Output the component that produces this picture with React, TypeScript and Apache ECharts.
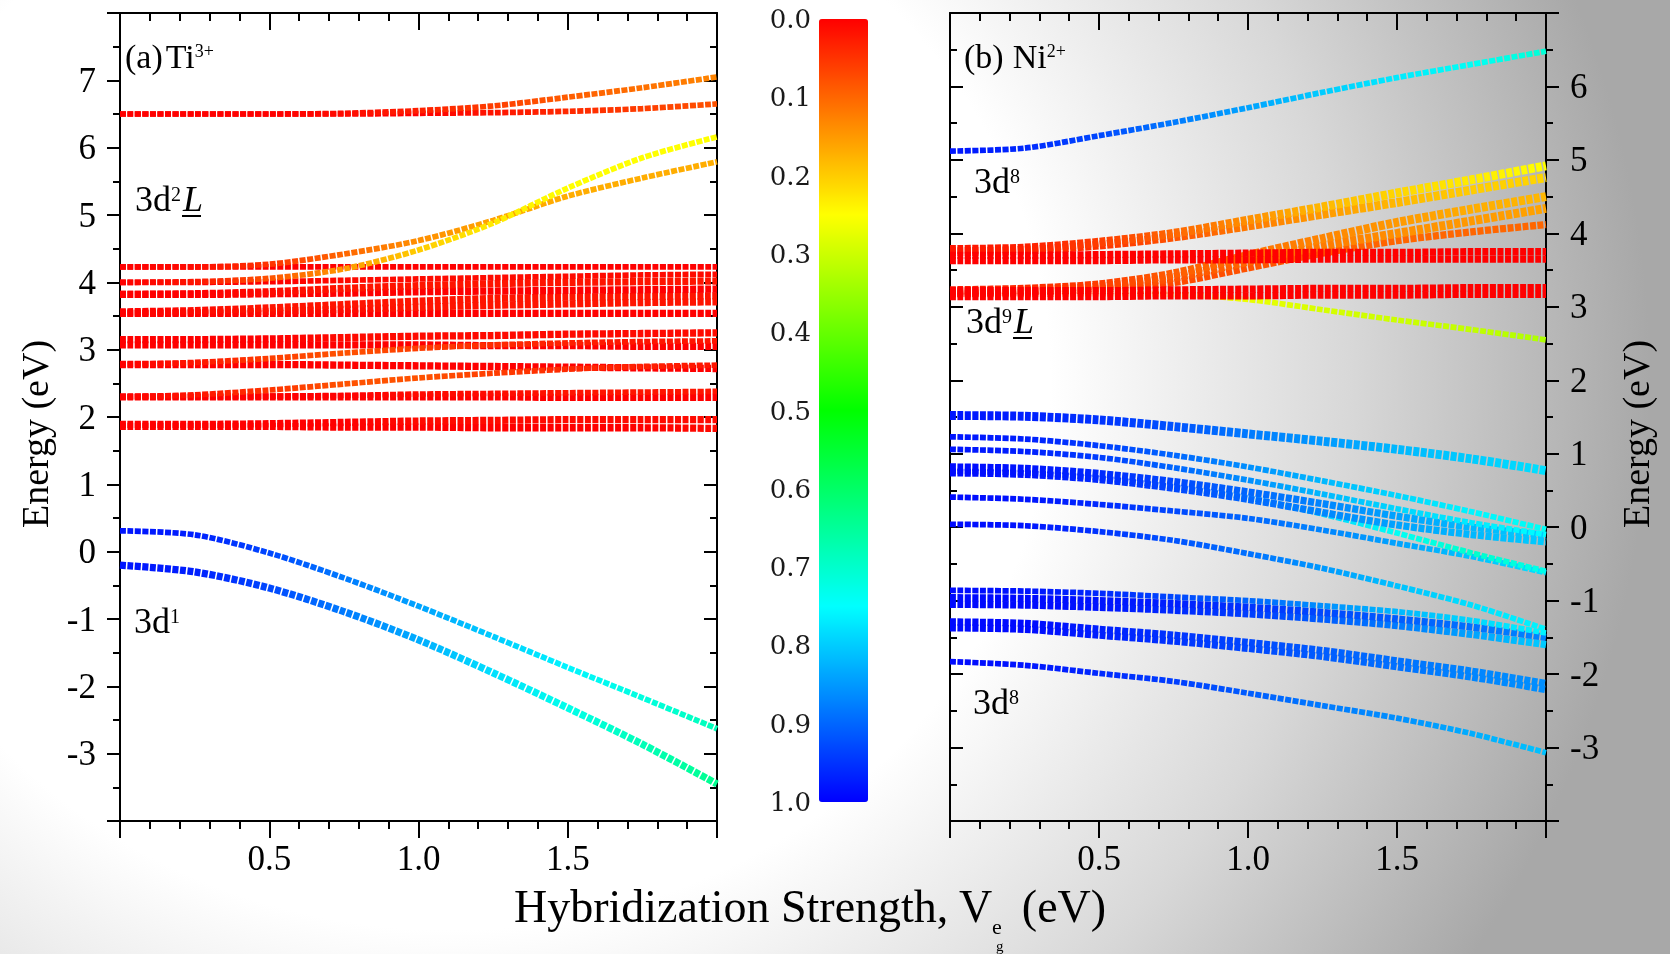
import React, { useEffect, useRef } from 'react';
import * as echarts from 'echarts';

// Hybridization strength V_eg (eV) at which every level is sampled
const hybridization = [0, 0.25, 0.5, 0.75, 1.0, 1.25, 1.5, 1.75, 2.0];

// (a) Ti3+ : level energies (eV) along the hybridization grid
const tiEnergies = [
  [1.86, 1.86, 1.86, 1.85, 1.85, 1.84, 1.84, 1.84, 1.83],
  [1.89, 1.89, 1.9, 1.92, 1.94, 1.95, 1.96, 1.96, 1.96],
  [2.3, 2.3, 2.3, 2.3, 2.3, 2.3, 2.29, 2.29, 2.29],
  [2.3, 2.3, 2.31, 2.32, 2.34, 2.35, 2.36, 2.37, 2.38],
  [2.78, 2.78, 2.78, 2.77, 2.76, 2.75, 2.74, 2.73, 2.72],
  [3.07, 3.07, 3.07, 3.07, 3.07, 3.06, 3.06, 3.05, 3.05],
  [3.15, 3.15, 3.16, 3.18, 3.2, 3.21, 3.23, 3.24, 3.25],
  [3.54, 3.54, 3.54, 3.54, 3.54, 3.54, 3.54, 3.54, 3.54],
  [3.54, 3.55, 3.57, 3.6, 3.63, 3.66, 3.68, 3.7, 3.71],
  [3.56, 3.58, 3.62, 3.67, 3.72, 3.76, 3.78, 3.79, 3.8],
  [3.82, 3.82, 3.83, 3.84, 3.86, 3.87, 3.88, 3.89, 3.9],
  [3.82, 3.83, 3.86, 3.91, 3.95, 3.98, 4.0, 4.01, 4.02],
  [4.0, 4.0, 4.01, 4.03, 4.05, 4.07, 4.09, 4.11, 4.12],
  [4.23, 4.23, 4.23, 4.23, 4.23, 4.23, 4.23, 4.23, 4.23],
  [6.5, 6.5, 6.5, 6.5, 6.51, 6.52, 6.54, 6.58, 6.65],
  [6.5, 6.5, 6.5, 6.51, 6.55, 6.62, 6.75, 6.89, 7.05],
  [2.3, 2.33, 2.4, 2.49, 2.58, 2.65, 2.71, 2.75, 2.77],
  [2.78, 2.81, 2.87, 2.95, 3.02, 3.07, 3.1, 3.12, 3.13],
  [4.23, 4.23, 4.27, 4.42, 4.62, 4.92, 5.28, 5.55, 5.79],
  [4.0, 4.01, 4.06, 4.2, 4.48, 4.88, 5.4, 5.85, 6.16],
  [0.31, 0.25, -0.02, -0.39, -0.81, -1.26, -1.72, -2.17, -2.63],
  [-0.2, -0.3, -0.54, -0.89, -1.31, -1.8, -2.32, -2.86, -3.45],
];

// (a) Ti3+ : 3d weight of each level along the grid
const tiWeights = [
  [0, 0, 0, 0, 0, 0, 0, 0, 0.01],
  [0, 0, 0, 0, 0.01, 0.01, 0.01, 0.01, 0.01],
  [0, 0, 0, 0, 0, 0, 0, 0, 0],
  [0, 0, 0, 0, 0.01, 0.01, 0.02, 0.02, 0.02],
  [0, 0, 0, 0, 0, 0, 0, 0, 0],
  [0, 0, 0, 0, 0, 0, 0, 0, 0],
  [0, 0, 0, 0.01, 0.01, 0.01, 0.01, 0.01, 0.01],
  [0, 0, 0, 0, 0, 0, 0, 0, 0],
  [0, 0, 0.01, 0.01, 0.02, 0.02, 0.02, 0.02, 0.02],
  [0, 0.01, 0.02, 0.02, 0.02, 0.02, 0.02, 0.02, 0.02],
  [0, 0, 0, 0, 0, 0, 0, 0, 0],
  [0, 0, 0.01, 0.02, 0.02, 0.02, 0.02, 0.02, 0.02],
  [0, 0, 0, 0.01, 0.01, 0.01, 0.01, 0.01, 0.01],
  [0, 0, 0, 0, 0, 0, 0, 0, 0],
  [0, 0, 0, 0, 0, 0.02, 0.04, 0.06, 0.08],
  [0, 0, 0, 0.01, 0.03, 0.06, 0.09, 0.11, 0.13],
  [0, 0.02, 0.05, 0.08, 0.08, 0.06, 0.04, 0.03, 0.02],
  [0, 0.02, 0.06, 0.08, 0.06, 0.04, 0.03, 0.02, 0.02],
  [0, 0.01, 0.05, 0.1, 0.14, 0.16, 0.17, 0.17, 0.17],
  [0, 0.02, 0.08, 0.15, 0.2, 0.23, 0.25, 0.25, 0.25],
  [0.98, 0.97, 0.93, 0.88, 0.84, 0.8, 0.76, 0.72, 0.68],
  [0.98, 0.97, 0.93, 0.88, 0.83, 0.78, 0.73, 0.68, 0.64],
];

// (a) Ti3+ : number of nearly degenerate states in each level
const tiMultiplicity = [3, 3, 3, 2, 3, 3, 3, 3, 3, 3, 3, 3, 2, 2, 2, 2, 2, 2, 2, 2, 2, 3];

// (b) Ni2+ : level energies (eV) along the hybridization grid
const niEnergies = [
  [-1.83, -1.88, -1.99, -2.1, -2.26, -2.43, -2.6, -2.81, -3.07],
  [-1.37, -1.39, -1.47, -1.55, -1.65, -1.76, -1.9, -2.04, -2.21],
  [-1.29, -1.31, -1.39, -1.47, -1.57, -1.68, -1.82, -1.96, -2.13],
  [-1.05, -1.06, -1.09, -1.13, -1.18, -1.25, -1.34, -1.46, -1.6],
  [-0.96, -0.97, -1.0, -1.04, -1.09, -1.16, -1.25, -1.36, -1.5],
  [-0.86, -0.87, -0.9, -0.95, -1.0, -1.07, -1.15, -1.27, -1.44],
  [0.04, 0.02, -0.06, -0.18, -0.36, -0.56, -0.8, -1.06, -1.39],
  [0.41, 0.38, 0.31, 0.22, 0.12, -0.04, -0.22, -0.4, -0.62],
  [0.76, 0.74, 0.67, 0.55, 0.4, 0.18, -0.08, -0.35, -0.6],
  [0.74, 0.72, 0.65, 0.53, 0.38, 0.2, 0.03, -0.1, -0.2],
  [0.82, 0.8, 0.73, 0.62, 0.48, 0.32, 0.15, 0.0, -0.11],
  [1.06, 1.03, 0.95, 0.81, 0.64, 0.45, 0.25, 0.06, -0.1],
  [1.23, 1.2, 1.11, 0.98, 0.82, 0.63, 0.43, 0.21, -0.03],
  [1.52, 1.51, 1.46, 1.37, 1.27, 1.17, 1.06, 0.93, 0.77],
  [3.17, 3.17, 3.18, 3.17, 3.1, 2.96, 2.82, 2.69, 2.55],
  [3.18, 3.2, 3.24, 3.33, 3.53, 3.73, 3.9, 4.02, 4.12],
  [3.2, 3.22, 3.27, 3.4, 3.62, 3.83, 4.0, 4.17, 4.34],
  [3.22, 3.24, 3.3, 3.45, 3.7, 3.93, 4.15, 4.33, 4.5],
  [3.75, 3.77, 3.84, 3.95, 4.1, 4.26, 4.42, 4.59, 4.76],
  [3.78, 3.8, 3.88, 4.0, 4.18, 4.36, 4.55, 4.73, 4.92],
  [3.14, 3.14, 3.14, 3.15, 3.15, 3.16, 3.16, 3.17, 3.17],
  [3.22, 3.22, 3.22, 3.23, 3.24, 3.25, 3.25, 3.26, 3.26],
  [3.63, 3.63, 3.63, 3.64, 3.64, 3.65, 3.65, 3.65, 3.65],
  [3.7, 3.7, 3.71, 3.72, 3.73, 3.74, 3.74, 3.75, 3.75],
  [5.12, 5.16, 5.33, 5.51, 5.71, 5.92, 6.12, 6.3, 6.48],
];

// (b) Ni2+ : 3d weight of each level along the grid
const niWeights = [
  [0.99, 0.98, 0.96, 0.94, 0.91, 0.88, 0.86, 0.83, 0.81],
  [0.99, 0.99, 0.97, 0.95, 0.93, 0.91, 0.89, 0.87, 0.86],
  [0.99, 0.99, 0.97, 0.95, 0.93, 0.91, 0.89, 0.87, 0.86],
  [0.99, 0.99, 0.98, 0.96, 0.94, 0.91, 0.88, 0.84, 0.8],
  [0.99, 0.99, 0.98, 0.97, 0.95, 0.93, 0.91, 0.89, 0.87],
  [0.99, 0.98, 0.96, 0.93, 0.9, 0.86, 0.82, 0.79, 0.76],
  [0.99, 0.98, 0.95, 0.92, 0.89, 0.85, 0.81, 0.78, 0.76],
  [0.99, 0.98, 0.96, 0.93, 0.9, 0.87, 0.84, 0.81, 0.78],
  [0.99, 0.97, 0.94, 0.9, 0.85, 0.79, 0.74, 0.7, 0.73],
  [0.99, 0.98, 0.96, 0.93, 0.9, 0.87, 0.84, 0.82, 0.8],
  [0.99, 0.98, 0.96, 0.93, 0.9, 0.87, 0.84, 0.82, 0.8],
  [0.98, 0.97, 0.94, 0.9, 0.86, 0.82, 0.79, 0.77, 0.75],
  [0.98, 0.97, 0.94, 0.9, 0.86, 0.82, 0.79, 0.76, 0.74],
  [0.98, 0.97, 0.95, 0.92, 0.88, 0.85, 0.82, 0.8, 0.78],
  [0.05, 0.08, 0.14, 0.22, 0.27, 0.29, 0.3, 0.31, 0.33],
  [0.02, 0.03, 0.05, 0.07, 0.08, 0.09, 0.1, 0.1, 0.1],
  [0.02, 0.04, 0.06, 0.08, 0.1, 0.12, 0.14, 0.15, 0.16],
  [0.02, 0.04, 0.06, 0.09, 0.11, 0.13, 0.15, 0.17, 0.18],
  [0.02, 0.03, 0.05, 0.08, 0.12, 0.15, 0.18, 0.2, 0.21],
  [0.02, 0.03, 0.06, 0.1, 0.14, 0.18, 0.21, 0.23, 0.25],
  [0, 0, 0, 0, 0, 0, 0, 0, 0],
  [0, 0, 0, 0, 0, 0, 0, 0, 0],
  [0, 0, 0, 0, 0, 0, 0, 0, 0],
  [0, 0, 0, 0, 0, 0, 0, 0, 0],
  [0.98, 0.96, 0.93, 0.88, 0.84, 0.8, 0.77, 0.74, 0.71],
];

// (b) Ni2+ : number of nearly degenerate states in each level
const niMultiplicity = [2, 3, 3, 3, 3, 2, 2, 2, 2, 3, 3, 2, 2, 4, 2, 3, 4, 4, 4, 4, 3, 3, 3, 3, 2];

// colour scale of the 3d weight, from 0 (top of the bar) to 1
const rainbow = ['#ff0000', '#ffff00', '#00ff00', '#00ffff', '#0000ff'];

const SERIF = '"Liberation Serif", "Times New Roman", serif';
const GRID_A = { left: 120, top: 13, width: 597, height: 808 };
const GRID_B = { left: 950, top: 13, width: 596, height: 808 };
const GRID_BAR = { left: 819, top: 19, width: 49, height: 783 };

function hexToRgb(h: string) {
  const n = parseInt(h.slice(1), 16);
  return [(n >> 16) & 255, (n >> 8) & 255, n & 255];
}

function weightColor(w: number) {
  const t = Math.min(1, Math.max(0, w)) * (rainbow.length - 1);
  const i = Math.min(rainbow.length - 2, Math.floor(t));
  const f = t - i;
  const a = hexToRgb(rainbow[i]);
  const b = hexToRgb(rainbow[i + 1]);
  const c = a.map((v, k) => Math.round(v + (b[k] - v) * f));
  return `rgb(${c[0]},${c[1]},${c[2]})`;
}

function levelSeries(
  energies: number[][],
  weights: number[][],
  multiplicity: number[],
  xAxisIndex: number,
  yAxisIndex: number,
  grid: { left: number; width: number },
  tag: string
) {
  const v0 = hybridization[0];
  const span = hybridization[hybridization.length - 1] - v0;
  return energies.map((row, k) => ({
    type: 'line',
    name: `${tag}-${k}`,
    xAxisIndex,
    yAxisIndex,
    data: hybridization.map((v, i) => [v, row[i]]),
    showSymbol: false,
    symbol: 'none',
    smooth: 0.3,
    silent: true,
    clip: true,
    lineStyle: {
      width: 2.5 + 1.6 * multiplicity[k],
      type: [6, 1.5],
      cap: 'butt',
      color: {
        type: 'linear',
        global: true,
        x: grid.left,
        y: 0,
        x2: grid.left + grid.width,
        y2: 0,
        colorStops: weights[k].map((w, i) => ({
          offset: (hybridization[i] - v0) / span,
          color: weightColor(w),
        })),
      },
    },
    emphasis: { disabled: true },
  }));
}

const frameLine = { color: '#000', width: 2 };

function xAxisDef(gridIndex: number, position: 'bottom' | 'top', labels: boolean) {
  return {
    type: 'value',
    gridIndex,
    position,
    min: 0,
    max: 2,
    interval: 0.5,
    axisLine: { show: true, onZero: false, lineStyle: frameLine },
    axisTick: { show: true, inside: !labels, length: 17, lineStyle: frameLine },
    minorTick: { show: true, splitNumber: 5, length: 8, lineStyle: frameLine },
    splitLine: { show: false },
    minorSplitLine: { show: false },
    axisLabel: labels
      ? {
          show: true,
          margin: 20,
          fontFamily: SERIF,
          fontSize: 35,
          color: '#000',
          showMinLabel: false,
          showMaxLabel: false,
          formatter: (v: number) => v.toFixed(1),
        }
      : { show: false },
  };
}

function yAxisDef(gridIndex: number, position: 'left' | 'right', min: number, max: number, labels: boolean) {
  return {
    type: 'value',
    gridIndex,
    position,
    min,
    max,
    interval: 1,
    axisLine: { show: true, onZero: false, lineStyle: frameLine },
    axisTick: { show: true, inside: !labels, length: 13, lineStyle: frameLine },
    minorTick: { show: true, splitNumber: 2, length: 7, lineStyle: frameLine },
    splitLine: { show: false },
    minorSplitLine: { show: false },
    axisLabel: labels
      ? {
          show: true,
          margin: 24,
          fontFamily: SERIF,
          fontSize: 35,
          color: '#000',
          showMinLabel: false,
          showMaxLabel: false,
        }
      : { show: false },
  };
}

type Piece = { t: string; size: number; dx?: number; rise?: number; italic?: boolean; underline?: boolean };

function makeMeasurer() {
  const ctx = document.createElement('canvas').getContext('2d') as CanvasRenderingContext2D;
  return (t: string, size: number, italic = false) => {
    ctx.font = `${italic ? 'italic ' : ''}${size}px ${SERIF}`;
    return ctx.measureText(t).width;
  };
}

function textEl(t: string, x: number, baseline: number, size: number, italic = false, rotation = 0, align = 'left') {
  return {
    type: 'text',
    x,
    y: rotation ? baseline : baseline - 0.34 * size,
    rotation,
    silent: true,
    style: {
      text: t,
      fontFamily: SERIF,
      fontSize: size,
      fontStyle: italic ? 'italic' : 'normal',
      fill: '#000',
      align,
      verticalAlign: 'middle',
      textAlign: align,
      textVerticalAlign: 'middle',
    },
  };
}

function annotation(measure: (t: string, s: number, i?: boolean) => number, pieces: Piece[], x: number, baseline: number) {
  const els: any[] = [];
  let cx = x;
  for (const p of pieces) {
    cx += p.dx ?? 0;
    const b = baseline - (p.rise ?? 0);
    const w = measure(p.t, p.size, p.italic);
    els.push(textEl(p.t, cx, b, p.size, p.italic));
    if (p.underline) {
      els.push({
        type: 'line',
        silent: true,
        shape: { x1: cx - 1, y1: b + 5, x2: cx + w - 2, y2: b + 5 },
        style: { stroke: '#000', lineWidth: 2 },
      });
    }
    cx += w;
  }
  return els;
}

export default function App() {
  const ref = useRef<HTMLDivElement>(null);

  useEffect(() => {
    if (!ref.current) return;
    const chart = echarts.init(ref.current, undefined, { renderer: 'svg' });
    const measure = makeMeasurer();

    const sup = (s: number, big: number) => 0.66 * (big - s);
    const titleX = 514;
    const titleBase = 922;
    const w1 = measure('Hybridization Strength, V', 46);
    const eX = titleX + w1 - 1;
    const eW = measure('e', 22);

    const graphics: any[] = [
      // axis titles
      textEl('Energy (eV)', 35, 434, 38, false, Math.PI / 2, 'center'),
      textEl('Energy (eV)', 1636, 434, 38, false, Math.PI / 2, 'center'),
      textEl('Hybridization Strength, V', titleX, titleBase, 46),
      textEl('e', eX, titleBase + 12, 22),
      textEl('g', eX + 4, titleBase + 29, 15),
      textEl('(eV)', eX + eW + 20, titleBase, 46),
      // panel (a)
      ...annotation(measure, [
        { t: '(a)', size: 34 },
        { t: 'Ti', size: 34, dx: 3 },
        { t: '3+', size: 18, rise: sup(18, 34) },
      ], 125, 68),
      ...annotation(measure, [
        { t: '3d', size: 36 },
        { t: '2', size: 20, rise: sup(20, 36) },
        { t: 'L', size: 36, italic: true, underline: true, dx: 2 },
      ], 135, 211),
      ...annotation(measure, [
        { t: '3d', size: 36 },
        { t: '1', size: 20, rise: sup(20, 36) },
      ], 134, 633),
      // panel (b)
      ...annotation(measure, [
        { t: '(b)', size: 34 },
        { t: 'Ni', size: 34, dx: 9 },
        { t: '2+', size: 18, rise: sup(18, 34) },
      ], 964, 68),
      ...annotation(measure, [
        { t: '3d', size: 36 },
        { t: '8', size: 20, rise: sup(20, 36) },
      ], 974, 193),
      ...annotation(measure, [
        { t: '3d', size: 36 },
        { t: '9', size: 20, rise: sup(20, 36) },
        { t: 'L', size: 36, italic: true, underline: true, dx: 2 },
      ], 966, 333),
      ...annotation(measure, [
        { t: '3d', size: 36 },
        { t: '8', size: 20, rise: sup(20, 36) },
      ], 973, 714),
    ];

    const option: any = {
      animation: false,
      backgroundColor: 'transparent',
      grid: [
        { ...GRID_A, outerBoundsMode: 'none', show: false },
        { ...GRID_B, outerBoundsMode: 'none', show: false },
        { ...GRID_BAR, outerBoundsMode: 'none', show: false },
      ],
      xAxis: [
        xAxisDef(0, 'bottom', true),
        xAxisDef(0, 'top', false),
        xAxisDef(1, 'bottom', true),
        xAxisDef(1, 'top', false),
        { type: 'value', gridIndex: 2, min: 0, max: 1, show: false },
      ],
      yAxis: [
        yAxisDef(0, 'left', -4, 8, true),
        yAxisDef(0, 'right', -4, 8, false),
        yAxisDef(1, 'left', -4, 7, false),
        yAxisDef(1, 'right', -4, 7, true),
        {
          type: 'value',
          gridIndex: 2,
          position: 'left',
          min: 0,
          max: 1,
          interval: 0.1,
          inverse: true,
          axisLine: { show: false },
          axisTick: { show: false },
          splitLine: { show: false },
          axisLabel: {
            show: true,
            margin: 8,
            fontFamily: 'DejaVu Serif',
            fontSize: 26,
            color: '#1a1a1a',
            formatter: (v: number) => v.toFixed(1),
          },
        },
      ],
      visualMap: {
        type: 'continuous',
        show: true,
        min: 0,
        max: 1,
        inverse: true,
        calculable: false,
        hoverLink: false,
        seriesIndex: [],
        orient: 'vertical',
        left: GRID_BAR.left,
        top: GRID_BAR.top,
        itemWidth: GRID_BAR.width,
        itemHeight: GRID_BAR.height,
        padding: 0,
        textStyle: { color: 'transparent' },
        inRange: { color: rainbow },
      },
      series: [
        ...levelSeries(tiEnergies, tiWeights, tiMultiplicity, 0, 0, GRID_A, 'Ti'),
        ...levelSeries(niEnergies, niWeights, niMultiplicity, 2, 3, GRID_B, 'Ni'),
      ],
      graphic: { elements: graphics },
    };

    chart.setOption(option);
    return () => chart.dispose();
  }, []);

  return (
    <div
      ref={ref}
      style={{
        position: 'fixed',
        left: 0,
        top: 0,
        width: 1670,
        height: 954,
        background:
          'radial-gradient(ellipse 1200px 1100px at 450px 380px, #ffffff 0%, #ffffff 50%, #d8d8d8 75%, #a8a8a8 100%)',
      }}
    />
  );
}
